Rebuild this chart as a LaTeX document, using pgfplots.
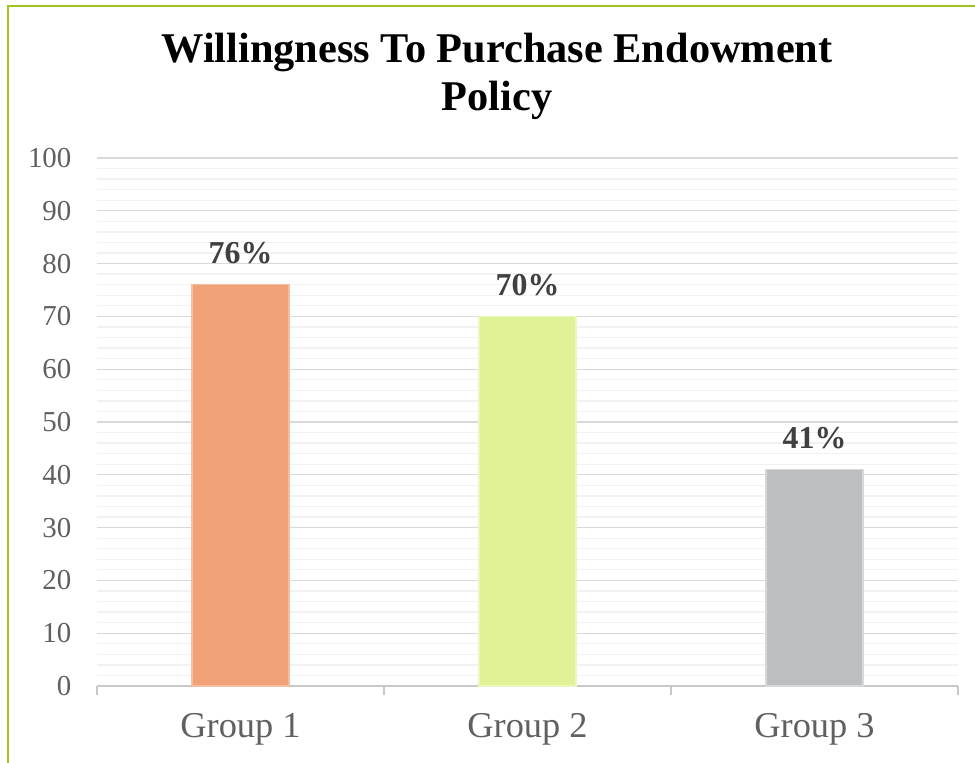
\documentclass[border=0pt]{standalone}
\usepackage{pgfplots}
\pgfplotsset{compat=1.18}
\usepackage{fontspec}
\setmainfont{Liberation Serif}
\definecolor{bordergreen}{RGB}{160,198,30}
\definecolor{gridmaj}{RGB}{217,217,217}
\definecolor{gridmin}{RGB}{242,242,242}
\definecolor{axisgray}{RGB}{200,200,200}
\definecolor{labelgray}{RGB}{96,96,96}
\definecolor{datagray}{RGB}{64,64,64}
\definecolor{cA}{RGB}{240,161,117}
\definecolor{cAe}{RGB}{246,190,160}
\definecolor{cB}{RGB}{223,242,149}
\definecolor{cBe}{RGB}{235,247,190}
\definecolor{cC}{RGB}{189,190,192}
\definecolor{cCe}{RGB}{215,216,218}
\begin{document}
\begin{tikzpicture}[x=1bp,y=1bp]
\useasboundingbox (0,0) rectangle (975,763);
\fill[white] (0,0) rectangle (975,763);
\draw[bordergreen, line width=2.8bp] (8,0) -- (8,757) -- (975,757);
\node[anchor=base, font=\bfseries\fontsize{42.5}{42.5}\selectfont] at (497,700) {Willingness To Purchase Endowment};
\node[anchor=base, font=\bfseries\fontsize{42.5}{42.5}\selectfont] at (497,652) {Policy};
\begin{axis}[
  at={(97bp,77bp)}, anchor=south west, scale only axis,
  width=861bp, height=528bp,
  xmin=-0.5, xmax=2.5, ymin=0, ymax=100,
  /pgf/number format/assume math mode=true,
  ytick={0,10,...,100}, minor y tick num=4,
  ymajorgrids, yminorgrids,
  major grid style={draw=gridmaj, line width=1.3bp},
  minor grid style={draw=gridmin, line width=1.3bp},
  axis x line=bottom, axis y line=left,
  y axis line style={draw=none},
  x axis line style={draw=axisgray, line width=1.3bp, -},
  xtick={0,1,2}, xticklabels={Group 1, Group 2, Group 3},
  major x tick style={draw=none},
  extra x ticks={-0.5,0.5,1.5,2.5}, extra x tick labels={},
  extra x tick style={major tick length=9bp, tick align=outside, grid=none,
    major x tick style={draw=axisgray, line width=1.3bp}},
  ytick style={draw=none}, minor y tick style={draw=none},
  tick label style={text=labelgray},
  yticklabel style={font=\fontsize{29}{29}\selectfont, xshift=-20bp},
  xticklabel style={font=\fontsize{36.5}{36.5}\selectfont, yshift=-22bp},
  nodes near coords={\pgfmathprintnumber{\pgfplotspointmeta}\%},
  nodes near coords style={font=\bfseries\fontsize{32}{32}\selectfont, text=datagray, anchor=south, yshift=17bp},
  clip=false,
]
\addplot[ybar, bar shift=0pt, bar width=97bp, fill=cA, draw=cAe, line width=1.2bp] coordinates {(0,76)};
\addplot[ybar, bar shift=0pt, bar width=97bp, fill=cB, draw=cBe, line width=1.2bp] coordinates {(1,70)};
\addplot[ybar, bar shift=0pt, bar width=97bp, fill=cC, draw=cCe, line width=1.2bp] coordinates {(2,41)};
\end{axis}
\end{tikzpicture}
\end{document}
